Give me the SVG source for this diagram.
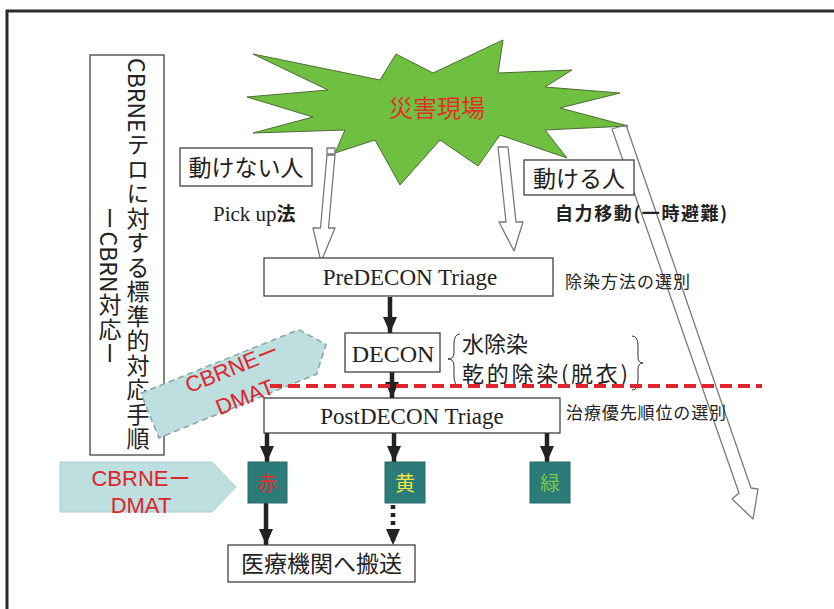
<svg xmlns="http://www.w3.org/2000/svg" width="834" height="609" viewBox="0 0 834 609">
<style>
.jp{font-family:"Noto Sans CJK JP","Noto Sans",sans-serif;fill:#222}
.ser{font-family:"Liberation Serif","Noto Sans CJK JP",serif;fill:#222}
.red{font-family:"Liberation Sans","Noto Sans CJK JP",sans-serif;fill:#e0242c}
.box{fill:#fff;stroke:#333;stroke-width:1.2}
.hollow{fill:#fff;stroke:#7a7a7a;stroke-width:1.3;stroke-linejoin:round}
.blk{stroke:#222;stroke-width:4.5;fill:none}
.tbox{fill:#2b7b78;stroke:#2b6a68;stroke-width:1}
.dmat{fill:#bddfdf}
.ls{letter-spacing:1.5px}
</style>
<defs>
<marker id="ah" markerUnits="userSpaceOnUse" markerWidth="16" markerHeight="14" refX="16" refY="7" orient="auto">
<path d="M0,0 L16,7 L0,14 z" fill="#222"/>
</marker>
</defs>
<rect width="834" height="609" fill="#fff"/>
<path d="M7,609 V11 H834" fill="none" stroke="#2a2a2a" stroke-width="3"/>

<g id="title">
<rect x="90" y="55" width="74" height="400" class="box"/>
<text x="138" y="58" class="jp" style="font-size:23px" writing-mode="vertical-rl">CBRNE<tspan class="ls">テロに対する標準的対応手順</tspan></text>
<text x="110" y="207" class="jp" style="font-size:23px" writing-mode="vertical-rl"><tspan class="ls">ー</tspan>CBRN<tspan class="ls">対応ー</tspan></text>
</g>

<g id="site">
<polygon points="253,54 380,80 396,54 433,73 503,40 498,73 572,70 545,87 620,93 560,108 628,126 545,130 567,158 500,135 478,166 440,140 400,185 375,140 335,153 345,130 253,133 313,117 247,97 328,90" fill="#6fc041" stroke="#4d6b36" stroke-width="1"/>
<text x="437" y="117" class="jp" style="font-size:24px;fill:#e0302a" text-anchor="middle">災害現場</text>
</g>

<g id="connectors">
<rect x="327" y="148" width="8" height="6" class="hollow"/>
<polygon points="327,155 335,155 328.5,228 335,228 321,262 313,228 320.5,228" class="hollow"/>
<polygon points="498,147 508,147 516,222 523,222 514,251 499,222 506,222" class="hollow"/>
<polygon points="612,129 626,125 751,488 758,489 753,519 732,499 739,493" fill="none" stroke="#7a7a7a" stroke-width="1.3" stroke-linejoin="round"/>
<line x1="390" y1="297" x2="390" y2="333" class="blk" marker-end="url(#ah)"/>
<line x1="392" y1="372" x2="392" y2="398" class="blk" marker-end="url(#ah)"/>
<line x1="267" y1="433" x2="267" y2="462" class="blk" marker-end="url(#ah)"/>
<line x1="394" y1="433" x2="394" y2="462" class="blk" marker-end="url(#ah)"/>
<line x1="547" y1="433" x2="547" y2="462" class="blk" marker-end="url(#ah)"/>
<line x1="266" y1="503" x2="266" y2="545" class="blk" marker-end="url(#ah)"/>
<line x1="393" y1="505" x2="393" y2="545" class="blk" stroke-dasharray="4 4" marker-end="url(#ah)"/>
</g>

<g id="immobile">
<rect x="180" y="148" width="132" height="38" class="box"/>
<text x="246" y="176" class="jp" style="font-size:23px" text-anchor="middle">動けない人</text>
<text x="213" y="221" class="ser" style="font-size:21px">Pick up<tspan class="jp" style="font-size:19px;font-weight:bold">法</tspan></text>
</g>

<g id="mobile">
<rect x="524" y="160" width="110" height="35" class="box"/>
<text x="579" y="187" class="jp" style="font-size:23px" text-anchor="middle">動ける人</text>
<text x="555" y="220" class="jp" style="font-size:18px;font-weight:bold" textLength="172" lengthAdjust="spacing">自力移動(一時避難)</text>
</g>

<g id="predecon">
<rect x="264" y="258" width="289" height="38" class="box"/>
<text x="410" y="285" class="ser" style="font-size:23px" text-anchor="middle">PreDECON Triage</text>
<text x="565" y="288" class="jp" style="font-size:17px" textLength="125" lengthAdjust="spacing">除染方法の選別</text>
</g>

<g id="decon">
<rect x="345" y="333" width="95" height="39" class="box"/>
<text x="393" y="362" class="ser" style="font-size:24px" text-anchor="middle">DECON</text>
<path d="M460,334 Q454,334 454,344 L454,353 Q454,359 448,359 Q454,359 454,366 L454,376 Q454,386 460,386" fill="none" stroke="#333" stroke-width="1"/>
<text x="462" y="352" class="jp" style="font-size:22px">水除染</text>
<text x="462" y="382" class="jp" style="font-size:22px" textLength="166" lengthAdjust="spacing">乾的除染(脱衣)</text>
<path d="M632,336 Q638,336 638,346 L638,357 Q638,363 643,363 Q638,363 638,369 L638,380 Q638,390 632,390" fill="none" stroke="#333" stroke-width="1"/>
</g>

<g id="dmat-top">
<g transform="translate(238,380) rotate(-22)">
<polygon points="-95,-24 75,-24 95,0 75,24 -95,24" class="dmat" stroke="#8fa6a6" stroke-width="1.6" stroke-dasharray="6 4"/>
<text x="-1" y="-6" class="red" style="font-size:22px" text-anchor="middle">CBRNEー</text>
<text x="0" y="26" class="red" style="font-size:22px" text-anchor="middle">DMAT</text>
</g>
</g>

<line x1="270" y1="386" x2="762" y2="386" stroke="#e0242c" stroke-width="4" stroke-dasharray="12 6"/>

<g id="postdecon">
<rect x="264" y="398" width="296" height="35" class="box"/>
<text x="412" y="424" class="ser" style="font-size:23px" text-anchor="middle">PostDECON Triage</text>
<text x="566" y="419" class="jp" style="font-size:17px" textLength="160" lengthAdjust="spacing">治療優先順位の選別</text>
</g>

<g id="red">
<rect x="248" y="462" width="39" height="41" class="tbox"/>
<text x="267.5" y="491" class="jp" style="font-size:20px;fill:#e8302a" text-anchor="middle">赤</text>
</g>
<g id="yellow">
<rect x="385" y="462" width="40" height="41" class="tbox"/>
<text x="405" y="491" class="jp" style="font-size:20px;fill:#f2e640" text-anchor="middle">黄</text>
</g>
<g id="green">
<rect x="530" y="462" width="40" height="41" class="tbox"/>
<text x="550" y="491" class="jp" style="font-size:20px;fill:#7cc44c" text-anchor="middle">緑</text>
</g>

<g id="dmat-bottom">
<polygon points="60,462 212,462 236,487 212,512 60,512" class="dmat" stroke="#b0cccc" stroke-width="1"/>
<text x="141" y="486" class="red" style="font-size:22px" text-anchor="middle">CBRNEー</text>
<text x="141" y="513" class="red" style="font-size:22px" text-anchor="middle">DMAT</text>
</g>

<g id="hospital">
<rect x="228" y="545" width="187" height="37" class="box"/>
<text x="321.5" y="572" class="jp" style="font-size:23px" text-anchor="middle">医療機関へ搬送</text>
</g>
</svg>
